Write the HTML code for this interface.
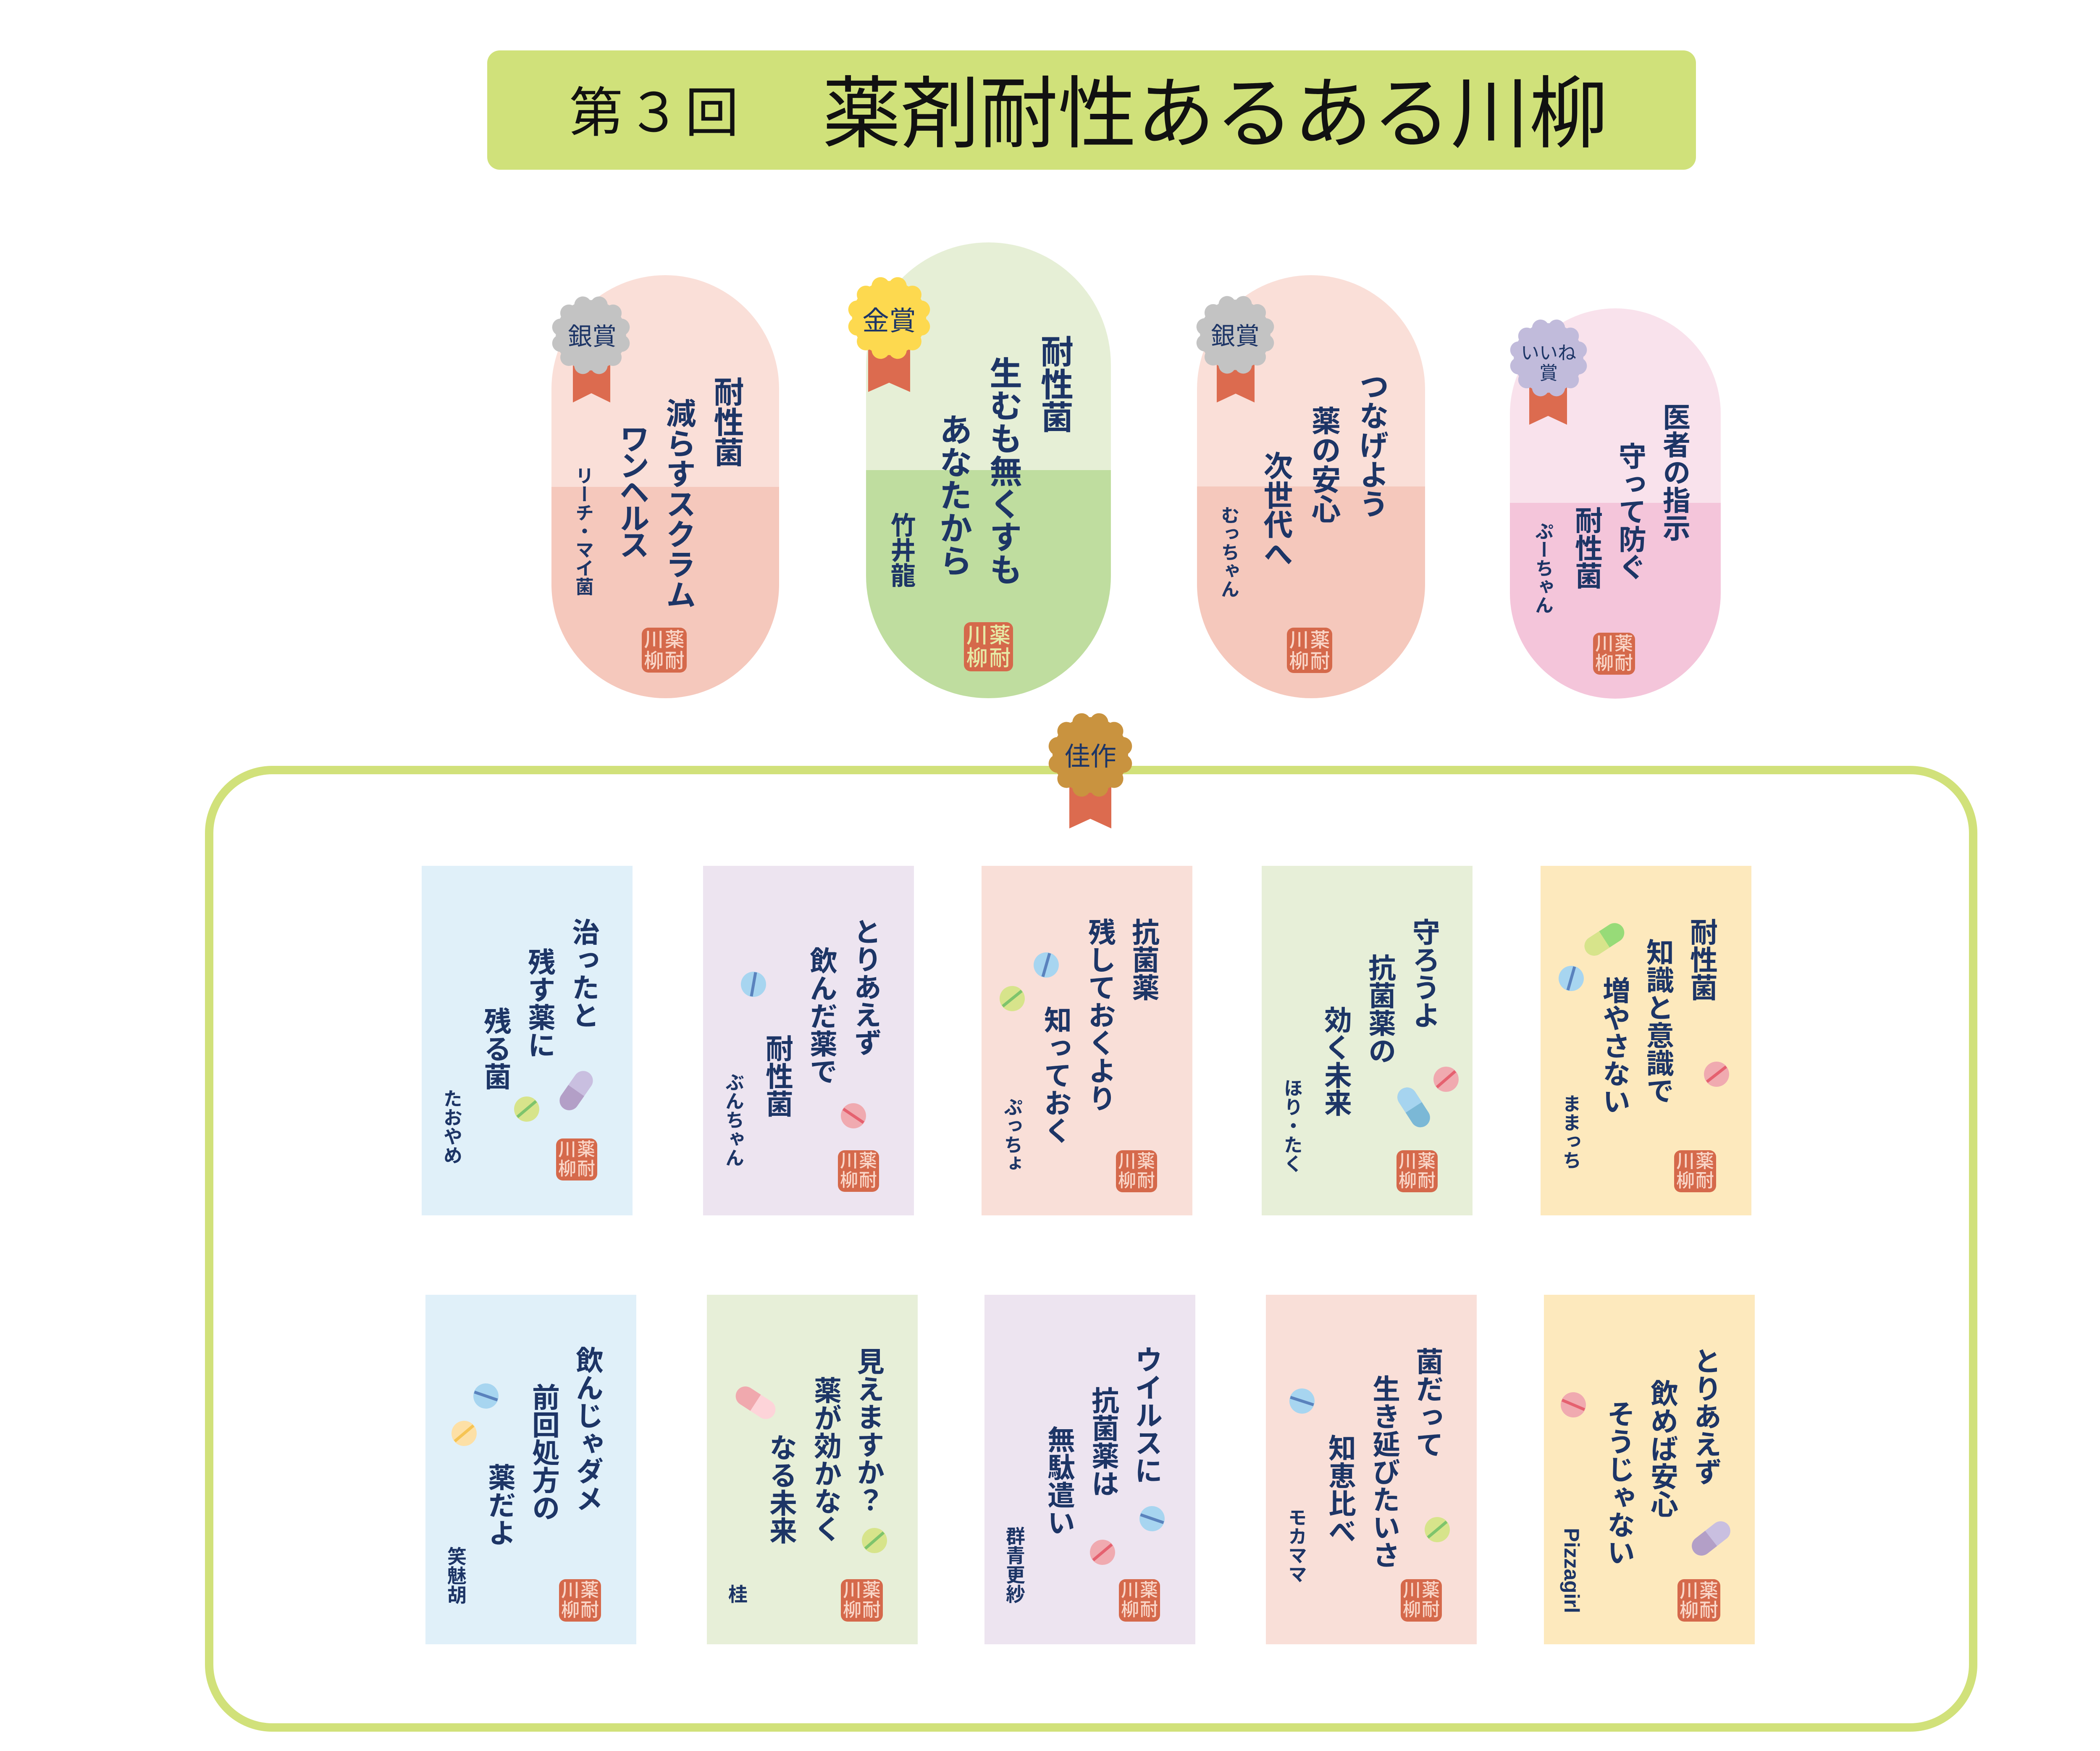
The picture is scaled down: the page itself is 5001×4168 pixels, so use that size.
<!DOCTYPE html>
<html lang="ja">
<head>
<meta charset="utf-8">
<style>
html,body{margin:0;padding:0;background:#fff}
body{width:5001px;height:4168px;position:relative;overflow:hidden;font-family:"Liberation Sans","Noto Sans CJK JP",sans-serif}
.pill{position:absolute;border-radius:9999px;overflow:hidden}
.card{position:absolute;width:502px;height:832px}
.v{position:absolute;writing-mode:vertical-rl;text-orientation:mixed;line-height:1;white-space:nowrap;color:#1d3566;font-family:"Liberation Sans","Noto Sans CJK JP",sans-serif;font-weight:700}
.a{font-weight:700}
.h{position:absolute;line-height:1;white-space:nowrap;font-family:"Liberation Sans","Noto Sans CJK JP",sans-serif}
.bt{position:absolute;width:240px;text-align:center;line-height:1;white-space:nowrap;color:#1d3566;font-family:"Liberation Sans","Noto Sans CJK JP",sans-serif;font-weight:400}
.st{position:absolute;background:#d5694b;border-radius:16px;display:grid;grid-template-columns:1fr 1fr;grid-template-rows:1fr 1fr;place-items:center;color:#f9d5c7;font-weight:500;line-height:1;padding:4px;box-sizing:border-box;font-family:"Liberation Sans","Noto Sans CJK JP",sans-serif}
.st.g{color:#e6eaa6}
</style>
</head>
<body>

<!-- Title bar -->
<div style="position:absolute;left:1160px;top:120px;width:2878px;height:284px;border-radius:30px;background:#d0e17a"></div>
<div class="h" style="left:1355px;top:206px;font-size:128px;letter-spacing:10px;color:#111">第３回</div>
<div class="h" style="left:1958px;top:178px;font-size:187px;color:#111">薬剤耐性あるある川柳</div>

<!-- Top pills -->
<div class="pill" style="left:1313px;top:655px;width:542px;height:1007px;background:linear-gradient(to bottom,#fadfd8 0,#fadfd8 504px,#f5c8bc 504px,#f5c8bc 100%)"></div>
<div class="pill" style="left:2062px;top:577px;width:583px;height:1085px;background:linear-gradient(to bottom,#e6efd6 0,#e6efd6 542px,#bfdd9f 542px,#bfdd9f 100%)"></div>
<div class="pill" style="left:2850px;top:655px;width:543px;height:1007px;background:linear-gradient(to bottom,#fadfd8 0,#fadfd8 503px,#f5c8bc 503px,#f5c8bc 100%)"></div>
<div class="pill" style="left:3595px;top:734px;width:502px;height:929px;background:linear-gradient(to bottom,#f9e2ec 0,#f9e2ec 463px,#f4c5da 463px,#f4c5da 100%)"></div>

<!-- Cards row 1 -->
<div class="card" style="left:1004px;top:2061px;background:#e0f0f9"></div>
<div class="card" style="left:1674px;top:2061px;background:#ede4f0"></div>
<div class="card" style="left:2337px;top:2061px;background:#f9dfd8"></div>
<div class="card" style="left:3004px;top:2061px;background:#e7efd8"></div>
<div class="card" style="left:3668px;top:2061px;background:#fde9bd"></div>
<!-- Cards row 2 -->
<div class="card" style="left:1013px;top:3082px;background:#e0f0f9"></div>
<div class="card" style="left:1683px;top:3082px;background:#e7efd8"></div>
<div class="card" style="left:2344px;top:3082px;background:#ede4f0"></div>
<div class="card" style="left:3014px;top:3082px;background:#f9dfd8"></div>
<div class="card" style="left:3676px;top:3082px;background:#fde9bd"></div>

<svg width="5001" height="4168" viewBox="0 0 5001 4168" style="position:absolute;left:0;top:0" xmlns="http://www.w3.org/2000/svg">
<defs>
<circle id="bp" cx="0" cy="-80" r="22"/>
<g id="bd">
<circle r="90"/>
<use href="#bp" transform="rotate(15)"/><use href="#bp" transform="rotate(45)"/>
<use href="#bp" transform="rotate(75)"/><use href="#bp" transform="rotate(105)"/>
<use href="#bp" transform="rotate(135)"/><use href="#bp" transform="rotate(165)"/>
<use href="#bp" transform="rotate(195)"/><use href="#bp" transform="rotate(225)"/>
<use href="#bp" transform="rotate(255)"/><use href="#bp" transform="rotate(285)"/>
<use href="#bp" transform="rotate(315)"/><use href="#bp" transform="rotate(345)"/>
</g>
</defs>

<!-- Frame -->
<rect x="498" y="1833" width="4200" height="2279" rx="150" ry="150" fill="none" stroke="#d1e17a" stroke-width="20"/>

<!-- Ribbons -->
<g fill="#dc6b4f">
<polygon points="1364,800 1453,800 1453,958 1408,936 1364,958"/>
<polygon points="2067,760 2167,760 2167,933 2117,911 2067,933"/>
<polygon points="2897,800 2987,800 2987,958 2942,937 2897,958"/>
<polygon points="3641,855 3731,855 3731,1011 3686,990 3641,1011"/>
<polygon points="2546,1800 2646,1800 2646,1972 2596,1949 2546,1972"/>
</g>

<!-- Badges -->
<use href="#bd" transform="translate(1407,798) scale(0.93)" fill="#c3c3c3"/>
<use href="#bd" transform="translate(2117,757) scale(0.98)" fill="#fdd94f"/>
<use href="#bd" transform="translate(2941,797) scale(0.93)" fill="#c3c3c3"/>
<use href="#bd" transform="translate(3687,852) scale(0.92)" fill="#c1bbdb"/>
<use href="#bd" transform="translate(2596,1797) scale(1.0)" fill="#c9933f"/>

<!-- Tablets -->
<g transform="translate(1254,2640) rotate(-40)"><circle r="30" fill="#d7e48b"/><rect x="-29" y="-3.5" width="58" height="7" fill="#7ec46c"/></g>
<g transform="translate(1794,2343) rotate(-80)"><circle r="30" fill="#a7d5f0"/><rect x="-29" y="-3.5" width="58" height="7" fill="#5a82bd"/></g>
<g transform="translate(2032,2656) rotate(34)"><circle r="30" fill="#f0aab0"/><rect x="-29" y="-3.5" width="58" height="7" fill="#e5616f"/></g>
<g transform="translate(2491,2297) rotate(-74)"><circle r="30" fill="#a7d5f0"/><rect x="-29" y="-3.5" width="58" height="7" fill="#5a82bd"/></g>
<g transform="translate(2410,2377) rotate(-39)"><circle r="30" fill="#d7e48b"/><rect x="-29" y="-3.5" width="58" height="7" fill="#7ec46c"/></g>
<g transform="translate(3443,2569) rotate(-41)"><circle r="30" fill="#f0aab0"/><rect x="-29" y="-3.5" width="58" height="7" fill="#e5616f"/></g>
<g transform="translate(3741,2329) rotate(-74)"><circle r="30" fill="#a7d5f0"/><rect x="-29" y="-3.5" width="58" height="7" fill="#5a82bd"/></g>
<g transform="translate(4087,2557) rotate(-38)"><circle r="30" fill="#f0aab0"/><rect x="-29" y="-3.5" width="58" height="7" fill="#e5616f"/></g>
<g transform="translate(1157,3323) rotate(19)"><circle r="30" fill="#a7d5f0"/><rect x="-29" y="-3.5" width="58" height="7" fill="#5a82bd"/></g>
<g transform="translate(1105,3412) rotate(-40)"><circle r="30" fill="#fde0a6"/><rect x="-29" y="-3.5" width="58" height="7" fill="#f6c453"/></g>
<g transform="translate(2082,3667) rotate(-41)"><circle r="30" fill="#d7e48b"/><rect x="-29" y="-3.5" width="58" height="7" fill="#7ec46c"/></g>
<g transform="translate(2743,3615) rotate(19)"><circle r="30" fill="#a7d5f0"/><rect x="-29" y="-3.5" width="58" height="7" fill="#5a82bd"/></g>
<g transform="translate(2625,3695) rotate(-40)"><circle r="30" fill="#f0aab0"/><rect x="-29" y="-3.5" width="58" height="7" fill="#e5616f"/></g>
<g transform="translate(3100,3335) rotate(18)"><circle r="30" fill="#a7d5f0"/><rect x="-29" y="-3.5" width="58" height="7" fill="#5a82bd"/></g>
<g transform="translate(3422,3641) rotate(-40)"><circle r="30" fill="#d7e48b"/><rect x="-29" y="-3.5" width="58" height="7" fill="#7ec46c"/></g>
<g transform="translate(3746,3344) rotate(23)"><circle r="30" fill="#f0aab0"/><rect x="-29" y="-3.5" width="58" height="7" fill="#e5616f"/></g>

<!-- Capsules -->
<g transform="translate(1372,2596) rotate(-55)"><rect x="-52" y="-23" width="104" height="46" rx="23" fill="#c9bfe0"/><path d="M0,-23 H-29 A23,23 0 0 0 -29,23 H0 Z" fill="#b39fc7"/></g>
<g transform="translate(3366,2636) rotate(57)"><rect x="-52" y="-23" width="104" height="46" rx="23" fill="#7bb8d6"/><path d="M0,-23 H-29 A23,23 0 0 0 -29,23 H0 Z" fill="#a6d4ef"/></g>
<g transform="translate(3820,2236) rotate(-33)"><rect x="-52" y="-23" width="104" height="46" rx="23" fill="#97db78"/><path d="M0,-23 H-29 A23,23 0 0 0 -29,23 H0 Z" fill="#d7e48b"/></g>
<g transform="translate(1799,3339) rotate(33)"><rect x="-52" y="-23" width="104" height="46" rx="23" fill="#fdd4d9"/><path d="M0,-23 H-29 A23,23 0 0 0 -29,23 H0 Z" fill="#f0a9ae"/></g>
<g transform="translate(4074,3662) rotate(-38)"><rect x="-52" y="-23" width="104" height="46" rx="23" fill="#c9bfe0"/><path d="M0,-23 H-29 A23,23 0 0 0 -29,23 H0 Z" fill="#b39fc7"/></g>
</svg>

<!-- Badge texts -->
<div class="bt" style="left:1290px;top:773px;font-size:58px">銀賞</div>
<div class="bt" style="left:1997px;top:732px;font-size:64px">金賞</div>
<div class="bt" style="left:2821px;top:772px;font-size:58px">銀賞</div>
<div class="bt" style="left:3567px;top:819px;font-size:44px">いいね</div>
<div class="bt" style="left:3567px;top:867px;font-size:44px">賞</div>
<div class="bt" style="left:2476px;top:1771px;font-size:62px">佳作</div>

<!-- Pill 1 -->
<div class="v" style="left:1692px;top:896px;font-size:72px">耐性菌</div>
<div class="v" style="left:1578px;top:947px;font-size:72px">減らすスクラム</div>
<div class="v" style="left:1467px;top:1008px;font-size:72px;letter-spacing:-9px">ワンヘルス</div>
<div class="v a" style="left:1365px;top:1110px;font-size:44px">リーチ・マイ菌</div>
<div class="st" style="left:1528px;top:1494px;width:107px;height:107px;font-size:47px"><span>川</span><span>薬</span><span>柳</span><span>耐</span></div>

<!-- Pill 2 -->
<div class="v" style="left:2472px;top:797px;font-size:78px">耐性菌</div>
<div class="v" style="left:2350px;top:848px;font-size:78px">生むも無くすも</div>
<div class="v" style="left:2231px;top:983px;font-size:78px">あなたから</div>
<div class="v a" style="left:2115px;top:1219px;font-size:60px">竹井龍</div>
<div class="st g" style="left:2295px;top:1481px;width:117px;height:117px;font-size:51px"><span>川</span><span>薬</span><span>柳</span><span>耐</span></div>

<!-- Pill 3 -->
<div class="v" style="left:3231px;top:884px;font-size:70px">つなげよう</div>
<div class="v" style="left:3117px;top:966px;font-size:70px">薬の安心</div>
<div class="v" style="left:3003px;top:1073px;font-size:70px">次世代へ</div>
<div class="v a" style="left:2902px;top:1204px;font-size:44px">むっちゃん</div>
<div class="st" style="left:3064px;top:1494px;width:108px;height:108px;font-size:47px"><span>川</span><span>薬</span><span>柳</span><span>耐</span></div>

<!-- Pill 4 -->
<div class="v" style="left:3954px;top:959px;font-size:66px">医者の指示</div>
<div class="v" style="left:3849px;top:1052px;font-size:66px">守って防ぐ</div>
<div class="v" style="left:3745px;top:1205px;font-size:66px">耐性菌</div>
<div class="v a" style="left:3650px;top:1242px;font-size:44px">ぷーちゃん</div>
<div class="st" style="left:3793px;top:1506px;width:100px;height:100px;font-size:44px"><span>川</span><span>薬</span><span>柳</span><span>耐</span></div>

<!-- Row 1 card 1 -->
<div class="v" style="left:1357px;top:2185px;font-size:66px">治ったと</div>
<div class="v" style="left:1252px;top:2256px;font-size:66px">残す薬に</div>
<div class="v" style="left:1147px;top:2397px;font-size:66px">残る菌</div>
<div class="v a" style="left:1052px;top:2592px;font-size:45px">たおやめ</div>
<div class="st" style="left:1324px;top:2710px;width:98px;height:100px;font-size:43px"><span>川</span><span>薬</span><span>柳</span><span>耐</span></div>

<!-- Row 1 card 2 -->
<div class="v" style="left:2028px;top:2184px;font-size:66px">とりあえず</div>
<div class="v" style="left:1923px;top:2253px;font-size:66px">飲んだ薬で</div>
<div class="v" style="left:1818px;top:2462px;font-size:66px">耐性菌</div>
<div class="v a" style="left:1723px;top:2553px;font-size:45px">ぶんちゃん</div>
<div class="st" style="left:1995px;top:2738px;width:98px;height:99px;font-size:43px"><span>川</span><span>薬</span><span>柳</span><span>耐</span></div>

<!-- Row 1 card 3 -->
<div class="v" style="left:2690px;top:2185px;font-size:66px">抗菌薬</div>
<div class="v" style="left:2586px;top:2185px;font-size:66px">残しておくより</div>
<div class="v" style="left:2481px;top:2394px;font-size:66px">知っておく</div>
<div class="v a" style="left:2386px;top:2612px;font-size:45px">ぷっちょ</div>
<div class="st" style="left:2657px;top:2738px;width:98px;height:100px;font-size:43px"><span>川</span><span>薬</span><span>柳</span><span>耐</span></div>

<!-- Row 1 card 4 -->
<div class="v" style="left:3358px;top:2185px;font-size:66px">守ろうよ</div>
<div class="v" style="left:3253px;top:2270px;font-size:66px">抗菌薬の</div>
<div class="v" style="left:3148px;top:2394px;font-size:66px">効く未来</div>
<div class="v a" style="left:3053px;top:2567px;font-size:45px">ほり・たく</div>
<div class="st" style="left:3325px;top:2738px;width:98px;height:100px;font-size:43px"><span>川</span><span>薬</span><span>柳</span><span>耐</span></div>

<!-- Row 1 card 5 -->
<div class="v" style="left:4019px;top:2185px;font-size:66px">耐性菌</div>
<div class="v" style="left:3915px;top:2233px;font-size:66px">知識と意識で</div>
<div class="v" style="left:3811px;top:2324px;font-size:66px">増やさない</div>
<div class="v a" style="left:3716px;top:2604px;font-size:45px">ままっち</div>
<div class="st" style="left:3986px;top:2738px;width:100px;height:100px;font-size:44px"><span>川</span><span>薬</span><span>柳</span><span>耐</span></div>

<!-- Row 2 card 1 -->
<div class="v" style="left:1366px;top:3204px;font-size:66px">飲んじゃダメ</div>
<div class="v" style="left:1262px;top:3292px;font-size:66px">前回処方の</div>
<div class="v" style="left:1157px;top:3483px;font-size:66px">薬だよ</div>
<div class="v a" style="left:1062px;top:3681px;font-size:46px">笑魅胡</div>
<div class="st" style="left:1331px;top:3759px;width:100px;height:101px;font-size:44px"><span>川</span><span>薬</span><span>柳</span><span>耐</span></div>

<!-- Row 2 card 2 -->
<div class="v" style="left:2035px;top:3207px;font-size:66px">見えますか？</div>
<div class="v" style="left:1933px;top:3276px;font-size:66px">薬が効かなく</div>
<div class="v" style="left:1827px;top:3412px;font-size:66px">なる未来</div>
<div class="v a" style="left:1731px;top:3771px;font-size:46px">桂</div>
<div class="st" style="left:2002px;top:3759px;width:100px;height:101px;font-size:44px"><span>川</span><span>薬</span><span>柳</span><span>耐</span></div>

<!-- Row 2 card 3 -->
<div class="v" style="left:2697px;top:3203px;font-size:66px">ウイルスに</div>
<div class="v" style="left:2594px;top:3300px;font-size:66px">抗菌薬は</div>
<div class="v" style="left:2489px;top:3393px;font-size:66px">無駄遣い</div>
<div class="v a" style="left:2392px;top:3633px;font-size:46px">群青更紗</div>
<div class="st" style="left:2664px;top:3759px;width:98px;height:101px;font-size:43px"><span>川</span><span>薬</span><span>柳</span><span>耐</span></div>

<!-- Row 2 card 4 -->
<div class="v" style="left:3366px;top:3207px;font-size:66px">菌だって</div>
<div class="v" style="left:3263px;top:3272px;font-size:66px">生き延びたいさ</div>
<div class="v" style="left:3158px;top:3413px;font-size:66px">知恵比べ</div>
<div class="v a" style="left:3063px;top:3589px;font-size:45px">モカママ</div>
<div class="st" style="left:3335px;top:3759px;width:98px;height:101px;font-size:43px"><span>川</span><span>薬</span><span>柳</span><span>耐</span></div>

<!-- Row 2 card 5 -->
<div class="v" style="left:4028px;top:3206px;font-size:66px">とりあえず</div>
<div class="v" style="left:3925px;top:3283px;font-size:66px">飲めば安心</div>
<div class="v" style="left:3822px;top:3332px;font-size:66px">そうじゃない</div>
<div class="v a" style="left:3717px;top:3637px;font-size:50px;font-family:'Liberation Sans',sans-serif">Pizzagirl</div>
<div class="st" style="left:3994px;top:3759px;width:102px;height:101px;font-size:45px"><span>川</span><span>薬</span><span>柳</span><span>耐</span></div>

</body>
</html>
